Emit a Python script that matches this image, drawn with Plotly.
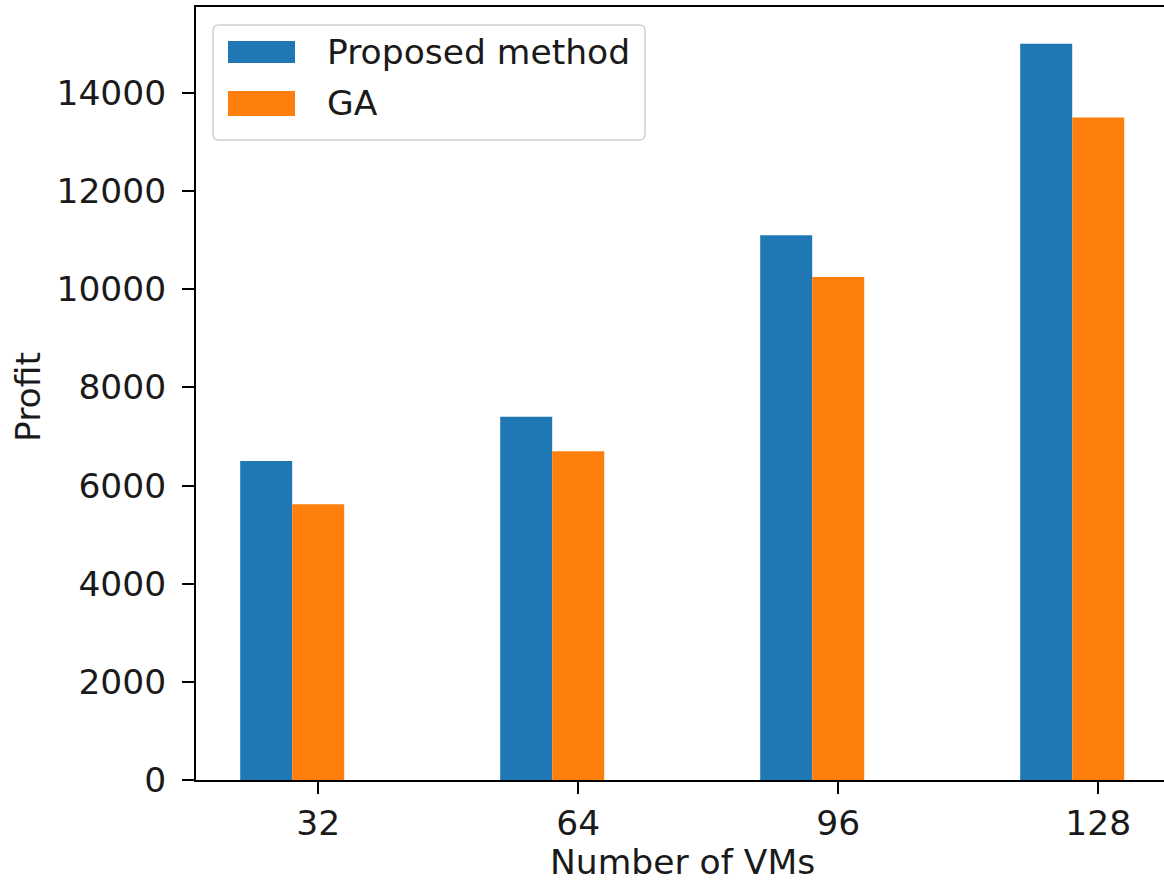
import plotly.graph_objects as go

# Data
categories = ["32", "64", "96", "128"]
proposed = [6500, 7400, 11100, 15000]
ga = [5620, 6700, 10250, 13500]
series_names = ["Proposed method", "GA"]
colors = ["#1f77b4", "#ff7f0e"]
y_ticks = [0, 2000, 4000, 6000, 8000, 10000, 12000, 14000]

W, H = 1164, 884
L, R, T, B = 196, 0, 7, 104
pw, ph = W - L - R, H - T - B
FONT = "DejaVu Sans"
FS = 34.5

def px2x(px):
    return (px - L) / pw

def px2y(py):
    return (H - B - py) / ph

pos = list(range(len(categories)))

fig = go.Figure()
fig.add_trace(go.Bar(x=pos, y=proposed, name=series_names[0], marker_color=colors[0],
                     marker_line_width=0, width=0.2, offset=-0.3))
fig.add_trace(go.Bar(x=pos, y=ga, name=series_names[1], marker_color=colors[1],
                     marker_line_width=0, width=0.2, offset=-0.1))

fig.update_layout(
    width=W, height=H,
    margin=dict(l=L, r=R, t=T, b=B, pad=0),
    paper_bgcolor="white", plot_bgcolor="white",
    barmode="overlay",
    showlegend=False,
    font=dict(family=FONT, size=FS, color="#1a1a1a"),
)
fig.update_xaxes(
    range=[-0.47, 3.253], tickvals=pos, ticktext=categories,
    showgrid=False, zeroline=False,
    showline=True, linecolor="black", linewidth=1.8, mirror=True,
    ticks="outside", ticklen=12, tickwidth=1.8, tickcolor="black",
    ticklabelstandoff=0,
)
fig.update_yaxes(
    range=[0, 15750], tickvals=y_ticks, tickformat="d",
    showgrid=False, zeroline=False,
    showline=True, linecolor="black", linewidth=1.8, mirror=False,
    ticks="outside", ticklen=12, tickwidth=1.8, tickcolor="black",
    ticklabelstandoff=9,
)

# axis titles
fig.add_annotation(text="Number of VMs", xref="paper", yref="paper",
                   x=px2x(682), y=px2y(862), showarrow=False,
                   xanchor="center", yanchor="middle", font=dict(size=FS))
fig.add_annotation(text="Profit", xref="paper", yref="paper",
                   x=px2x(28), y=px2y(397), showarrow=False, textangle=-90,
                   xanchor="center", yanchor="middle", font=dict(size=FS))

# legend (matplotlib-like)
lx0, lx1, ly0, ly1, r = 213, 645, 25, 140, 6
def P(x, y):
    return f"{px2x(x)},{px2y(y)}"
path = (f"M {P(lx0 + r, ly0)} L {P(lx1 - r, ly0)} Q {P(lx1, ly0)} {P(lx1, ly0 + r)} "
        f"L {P(lx1, ly1 - r)} Q {P(lx1, ly1)} {P(lx1 - r, ly1)} "
        f"L {P(lx0 + r, ly1)} Q {P(lx0, ly1)} {P(lx0, ly1 - r)} "
        f"L {P(lx0, ly0 + r)} Q {P(lx0, ly0)} {P(lx0 + r, ly0)} Z")
fig.add_shape(type="path", path=path, xref="paper", yref="paper",
              line=dict(color="#d0d0d0", width=1.5), fillcolor="rgba(255,255,255,0.8)")
patch_rows = [(41, 63), (91, 116)]
text_centers = [52, 103]
for i, name in enumerate(series_names):
    y0p, y1p = patch_rows[i]
    fig.add_shape(type="rect", xref="paper", yref="paper",
                  x0=px2x(228), x1=px2x(295), y0=px2y(y1p), y1=px2y(y0p),
                  line_width=0, fillcolor=colors[i])
    fig.add_annotation(text=name, xref="paper", yref="paper",
                       x=px2x(325), y=px2y(text_centers[i]), showarrow=False,
                       xanchor="left", yanchor="middle", font=dict(size=FS))

fig.write_html("out.html", config={"displayModeBar": False},
               post_script="document.body.style.margin='0';document.body.style.overflow='hidden';")
